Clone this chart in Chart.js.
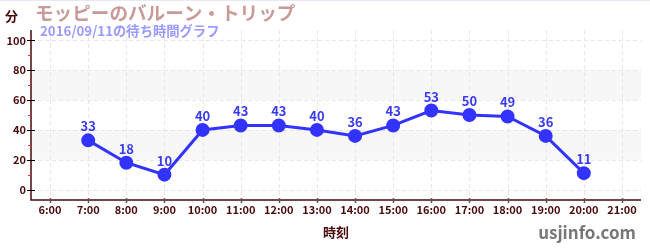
<!DOCTYPE html>
<html><head><meta charset="utf-8">
<script src="https://cdn.jsdelivr.net/npm/chart.js@4/dist/chart.umd.min.js"></script>
<style>html,body{margin:0;padding:0;background:#fff}#wrap{width:650px;height:250px;position:relative}</style>
</head><body><div id="wrap"><canvas id="c" width="650" height="250"></canvas></div>
<script>
const hours = [7, 8, 9, 10, 11, 12, 13, 14, 15, 16, 17, 18, 19, 20];
const waitMinutes = [33, 18, 10, 40, 43, 43, 40, 36, 43, 53, 50, 49, 36, 11];
const xTickHours = [6, 7, 8, 9, 10, 11, 12, 13, 14, 15, 16, 17, 18, 19, 20, 21];
const yTicks = [0, 10, 20, 30, 40, 50, 60, 70, 80, 90, 100];
const bands = [[20, 40], [60, 80]];
const titleText = 'モッピーのバルーン・トリップ';
const subtitleText = '2016/09/11の待ち時間グラフ';
const yUnit = '分';
const xTitle = '時刻';
const credit = 'usjinfo.com';

const FONT = '"Noto Sans CJK JP", "Noto Sans", sans-serif';
const AX = '#4a0a0a';

const deco = {
  id: 'deco',
  beforeDatasetsDraw(chart) {
    const {ctx, chartArea: a, scales: {x, y}} = chart;
    ctx.save();
    ctx.fillStyle = '#e8e8fa';
    ctx.fillRect(0, 0, chart.width, 1);
    ctx.fillStyle = '#f7f7f7';
    bands.forEach(([lo, hi]) => {
      const y1 = y.getPixelForValue(hi), y2 = y.getPixelForValue(lo);
      ctx.fillRect(a.left, y1, a.right - a.left, y2 - y1);
    });
    ctx.setLineDash([4, 3]);
    ctx.strokeStyle = '#e6e6e6';
    ctx.lineWidth = 1;
    yTicks.filter(v => v % 20 === 0).forEach(v => {
      const p = Math.round(y.getPixelForValue(v)) + 0.5;
      ctx.beginPath(); ctx.moveTo(a.left, p); ctx.lineTo(a.right, p); ctx.stroke();
    });
    xTickHours.forEach(h => {
      const p = Math.round(x.getPixelForValue(h)) + 0.5;
      ctx.beginPath(); ctx.moveTo(p, a.top); ctx.lineTo(p, a.bottom); ctx.stroke();
    });
    ctx.setLineDash([]);
    // axes
    ctx.strokeStyle = AX; ctx.lineWidth = 1.5;
    ctx.beginPath(); ctx.moveTo(a.left, a.top); ctx.lineTo(a.left, a.bottom); ctx.lineTo(a.right, a.bottom); ctx.stroke();
    // y ticks
    yTicks.forEach(v => {
      const p = Math.round(y.getPixelForValue(v)) + 0.5;
      ctx.lineWidth = 1;
      if (v % 20 === 0) { ctx.strokeStyle = '#000'; ctx.beginPath(); ctx.moveTo(a.left - 4, p); ctx.lineTo(a.left + 4, p); ctx.stroke(); }
      else { ctx.strokeStyle = '#e03030'; ctx.beginPath(); ctx.moveTo(a.left - 3, p); ctx.lineTo(a.left, p); ctx.stroke(); }
    });
    // x ticks
    ctx.strokeStyle = '#555'; ctx.lineWidth = 1.5;
    xTickHours.forEach(h => {
      const p = Math.round(x.getPixelForValue(h)) + 0.5;
      ctx.beginPath(); ctx.moveTo(p, a.bottom - 2); ctx.lineTo(p, a.bottom + 3); ctx.stroke();
    });
    ctx.restore();
  },
  afterDatasetsDraw(chart) {
    const {ctx} = chart;
    const meta = chart.getDatasetMeta(0);
    ctx.save();
    ctx.font = 'bold 13px ' + FONT;
    ctx.fillStyle = '#3b3bee';
    ctx.textAlign = 'center'; ctx.textBaseline = 'alphabetic';
    meta.data.forEach((pt, i) => ctx.fillText(String(waitMinutes[i]), pt.x, pt.y - 9));
    ctx.restore();
  },
  afterDraw(chart) {
    const {ctx} = chart;
    ctx.save();
    ctx.textBaseline = 'alphabetic'; ctx.textAlign = 'left';
    ctx.fillStyle = '#c99a9a'; ctx.font = 'bold 18.6px ' + FONT;
    ctx.fillText(titleText, 35, 20);
    ctx.fillStyle = '#9a9aff'; ctx.font = 'bold 13.3px ' + FONT;
    ctx.fillText(subtitleText, 40, 36);
    ctx.fillStyle = AX; ctx.font = 'bold 13px ' + FONT;
    ctx.fillText(yUnit, 5, 21);
    ctx.textAlign = 'center';
    ctx.fillText(xTitle, 336, 237);
    ctx.fillStyle = '#777'; ctx.font = 'bold 17px ' + FONT; ctx.textAlign = 'right';
    ctx.fillText(credit, 636, 239);
    ctx.restore();
  }
};

new Chart(document.getElementById('c'), {
  type: 'line',
  data: {
    datasets: [{
      data: hours.map((h, i) => ({x: h, y: waitMinutes[i]})),
      borderColor: '#3333ff', backgroundColor: '#3333ff',
      borderWidth: 3, pointRadius: 5.5, pointHoverRadius: 5.5, tension: 0
    }]
  },
  options: {
    responsive: false, animation: false,
    layout: {padding: {top: 30, right: 9, left: 0, bottom: 0}},
    plugins: {legend: {display: false}, tooltip: {enabled: false}},
    scales: {
      x: {
        type: 'linear', min: 5.5, max: 21.5,
        afterBuildTicks: s => { s.ticks = xTickHours.map(v => ({value: v})); },
        afterFit: s => { s.height = 50; },
        grid: {display: false, drawTicks: false}, border: {display: false},
        ticks: {callback: v => v + ':00', color: AX, font: {family: FONT, size: 11, weight: 'bold'}, padding: 3, maxRotation: 0, autoSkip: false}
      },
      y: {
        min: -7, max: 107,
        afterBuildTicks: s => { s.ticks = yTicks.map(v => ({value: v})); },
        afterFit: s => { s.width = 31; },
        grid: {display: false, drawTicks: false}, border: {display: false},
        ticks: {callback: v => (v % 20 === 0 ? String(v) : ''), color: AX, font: {family: FONT, size: 11, weight: 'bold'}, padding: 5, autoSkip: false}
      }
    }
  },
  plugins: [deco]
});
</script></body></html>
